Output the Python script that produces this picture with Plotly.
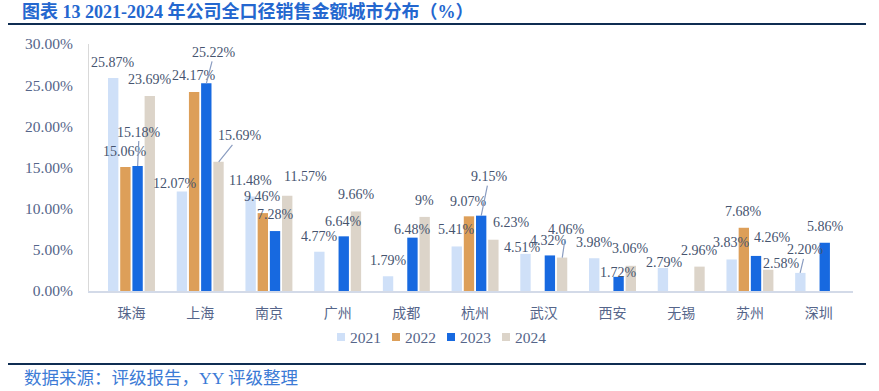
import plotly.graph_objects as go

# ---------------- data ----------------
cities = ["珠海", "上海", "南京", "广州", "成都", "杭州", "武汉", "西安", "无锡", "苏州", "深圳"]
years = ["2021", "2022", "2023", "2024"]
v2021 = [25.87, 12.07, 11.48, 4.77, 1.79, 5.41, 4.51, 3.98, 2.79, 3.83, 2.20]
v2022 = [15.06, 24.17, 9.46, None, None, 9.07, None, None, None, 7.68, None]
v2023 = [15.18, 25.22, 7.28, 6.64, 6.48, 9.15, 4.32, 1.72, None, 4.26, 5.86]
v2024 = [23.69, 15.69, 11.57, 9.66, 9.00, 6.23, 4.06, 3.06, 2.96, 2.58, None]
series = [v2021, v2022, v2023, v2024]
y_ticks = [0, 5, 10, 15, 20, 25, 30]

# ---------------- styles ----------------
colors = ["#cfe0f8", "#dd9f59", "#1769e0", "#dcd4c9"]
# label placement (px): dx from bar centre, dy of label centre above bar top, leader line flag
label_pos = [
    [(0, 16, 0), (-7, 8, 0), (0, 15.5, 0), (0, 15, 0), (1, 16, 0), (0, 16.5, 0), (-2.5, 6, 0), (0, 15.5, 0), (2, 6, 0), (0, 16.5, 0), (5.5, 23, 1)],
    [(0, 16, 0), (0, 17, 0), (0, 17, 0), None, None, (0, 15, 0), None, None, None, (0, 16, 0), None],
    [(1.5, 34, 1), (8, 31, 1), (0, 17, 0), (0, 15, 0), (0, 8, 0), (8, 39, 1), (-1, 15, 0), (0, 4, 0), None, (16, 18, 0), (1, 16, 0)],
    [(0, 16, 0), (21, 26, 1), (18, 19, 0), (0, 16.5, 0), (0, 16, 0), (18, 17, 0), (4, 27.6, 1), (0, 17, 0), (0, 16.6, 0), (13.5, 6, 0), None],
]

W, H = 879, 391
ML, MT = 89, 44
PW, PH = 764, 247
MR, MB = W - ML - PW, H - MT - PH
BARGAP, GROUPGAP = 0.29, 0.15
cat_w = PW / len(cities)
slot = (1 - BARGAP) * cat_w / len(series)
bar_off = [(i - (len(series) - 1) / 2) * slot for i in range(len(series))]

SERIF = "Liberation Serif, Times New Roman, Noto Sans CJK SC, serif"
LABEL_COLOR = "#46546f"
TICK_COLOR = "#55658a"

def fmt(v):
    return f"{int(v)}%" if float(v).is_integer() else f"{v:.2f}%"

# window pixel -> paper coordinates
def px_x(p):
    return (p - ML) / PW

def px_y(p):
    return 1 - (p - MT) / PH

fig = go.Figure()
for name, vals, col in zip(years, series, colors):
    fig.add_trace(go.Bar(x=cities, y=vals, name=name, showlegend=False,
                         marker=dict(color=col, line=dict(width=0))))

annotations = []
for si, vals in enumerate(series):
    for ci, v in enumerate(vals):
        if v is None or label_pos[si][ci] is None:
            continue
        dx, dy, leader = label_pos[si][ci]
        if leader:
            annotations.append(dict(
                x=cities[ci], y=v, xref="x", yref="y", text=fmt(v),
                showarrow=True, arrowhead=0, arrowwidth=1.2, arrowcolor="#8a9cc0",
                ax=dx, ay=-dy, xshift=bar_off[si], standoff=0,
                font=dict(family=SERIF, size=14, color=LABEL_COLOR)))
        else:
            annotations.append(dict(
                x=cities[ci], y=v, xref="x", yref="y", text=fmt(v), showarrow=False,
                xshift=bar_off[si] + dx, yshift=dy,
                font=dict(family=SERIF, size=14, color=LABEL_COLOR)))

# legend (key squares + text)
shapes = []
LEG_X0, LEG_STEP, LEG_Y, SQ = 337, 55, 337, 8
for i, (name, col) in enumerate(zip(years, colors)):
    x0 = LEG_X0 + i * LEG_STEP
    shapes.append(dict(type="rect", xref="paper", yref="paper",
                       x0=px_x(x0), x1=px_x(x0 + SQ), y0=px_y(LEG_Y + SQ / 2), y1=px_y(LEG_Y - SQ / 2),
                       fillcolor=col, line=dict(width=0)))
    annotations.append(dict(x=px_x(x0 + SQ + 3), y=px_y(LEG_Y), xref="paper", yref="paper",
                            xanchor="left", yanchor="middle", text=name, showarrow=False,
                            font=dict(family=SERIF, size=15.5, color=TICK_COLOR)))

annotations.append(dict(
    x=px_x(22), y=px_y(378), xref="paper", yref="paper", xanchor="left", yanchor="middle",
    text="数据来源：评级报告，YY 评级整理", showarrow=False,
    font=dict(family=SERIF, size=17.5, color="#3c7bd6")))

shapes += [
    dict(type="line", xref="paper", yref="paper", x0=px_x(8), x1=px_x(866), y0=px_y(24), y1=px_y(24),
         line=dict(color="#0f2d52", width=2)),
    dict(type="line", xref="paper", yref="paper", x0=px_x(8), x1=px_x(866), y0=px_y(364), y1=px_y(364),
         line=dict(color="#0f2d52", width=2)),
]

fig.update_layout(
    width=W, height=H,
    margin=dict(l=ML, r=MR, t=MT, b=MB, autoexpand=False),
    paper_bgcolor="white", plot_bgcolor="white",
    barmode="group", bargap=BARGAP, bargroupgap=GROUPGAP,
    showlegend=False,
    title=dict(text="<b>图表 13 2021-2024 年公司全口径销售金额城市分布（%）</b>",
               x=22 / W, xref="container", xanchor="left",
               y=1 - 12 / H, yref="container", yanchor="middle",
               font=dict(family=SERIF, size=18, color="#2467cf")),
    xaxis=dict(showline=True, linecolor="#d3dae8", linewidth=1.5, ticks="", showgrid=False,
               ticklabelstandoff=8, automargin=False,
               tickfont=dict(family="Noto Sans CJK SC", size=14, color=TICK_COLOR)),
    yaxis=dict(range=[0, 30], tickvals=y_ticks, ticktext=[f"{t:.2f}%" for t in y_ticks],
               showline=True, linecolor="#d9d9d9", linewidth=1, showgrid=False, zeroline=False,
               ticks="", ticklabelstandoff=12, automargin=False,
               tickfont=dict(family=SERIF, size=15.5, color=TICK_COLOR)),
    annotations=annotations,
    shapes=shapes,
)

# remove the page's default 8px body margin so the figure fills the window exactly
fig.write_html("out.html", config={"displayModeBar": False},
               post_script="document.body.style.margin='0';document.body.style.overflow='hidden';")
